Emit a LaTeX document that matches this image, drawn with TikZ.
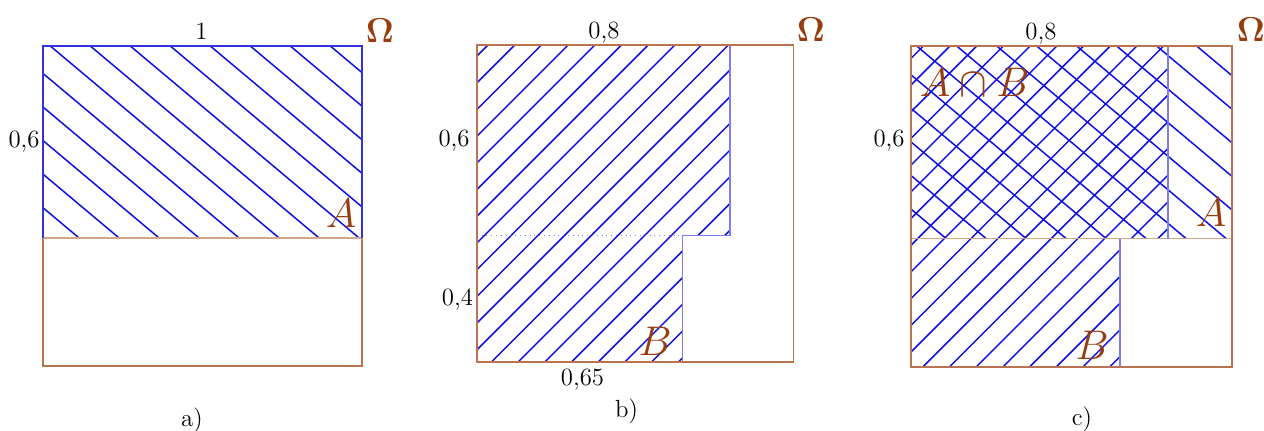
\documentclass[tikz,border=0pt]{standalone}
\usetikzlibrary{calc}
\definecolor{brn}{RGB}{150,60,15}
\definecolor{framec}{RGB}{185,115,80}
\definecolor{midc}{RGB}{208,165,140}
\definecolor{hb}{RGB}{15,15,225}
\definecolor{lb}{RGB}{125,125,250}
\definecolor{ab}{RGB}{50,50,225}
\begin{document}
\begin{tikzpicture}[x=0.5pt,y=-0.5pt,
  hatch/.style={draw=hb,line width=0.75pt},
  framel/.style={draw=framec,line width=0.9pt},
  midline/.style={draw=midc,line width=0.9pt},
  bedge/.style={draw=lb,line width=0.6pt},
  aedge/.style={draw=ab,line width=0.9pt},
  num/.style={font=\fontsize{12.4}{14}\selectfont,inner sep=0pt},
  setl/.style={text=brn,font=\fontsize{21}{24}\selectfont,inner sep=0pt,anchor=base},
  omeg/.style={text=brn,font=\fontsize{18.5}{22}\selectfont,inner sep=0pt,anchor=base},
]
\useasboundingbox (0,0) rectangle (1264,430);

% ---------- panel a ----------
\begin{scope}
  \clip (42.7,45.7) rectangle (362,237.7);
  \foreach \k in {-7,...,9}
    \draw[hatch] (42.7+7.3+40*\k-400, 45.7-335.6) -- ++(800,671.3);
\end{scope}
\draw[framel] (42.7,237.7) -- (42.7,365.7) -- (362,365.7) -- (362,237.7);
\draw[midline] (42.7,237.7) -- (362,237.7);
\draw[aedge] (42.7,237.7) -- (42.7,45.7) -- (362,45.7) -- (362,237.7);

\node[num,anchor=base] (a1) at (201.5,39.3) {1};
\node[num,anchor=base east] (a06) at (40,147.5) {0,6};
\node[omeg] (aO) at (380,42.7) {$\mathbf{\Omega}$};
\node[setl] (aA) at (341,227) {$A$};
\node[num,anchor=base] (alab) at (192,426) {a)};

% ---------- panel b ----------
\begin{scope}
  \clip (476.7,45.3) -- (730,45.3) -- (730,235.3) -- (682.7,235.3) -- (682.7,362.3) -- (476.7,362.3) -- cycle;
  \foreach \k in {0,...,25}
    \draw[hatch] (476.7+11+26.7*\k+400, 45.3-400) -- ++(-800,800);
\end{scope}
\draw[bedge] (730,45.3) -- (730,235.3) -- (682.7,235.3) -- (682.7,362.3);
\draw[draw=lb,line width=0.4pt,dotted] (476.7,235.3) -- (682.7,235.3);
\draw[framel] (476.7,45.3) rectangle (793.5,362.3);

\node[num,anchor=base] (b08) at (604,38.3) {0,8};
\node[num,anchor=base east] (b06) at (470,146.7) {0,6};
\node[num,anchor=base east] (b04) at (473.3,305) {0,4};
\node[num,anchor=base] (b065) at (582.5,385) {0,65};
\node[omeg] (bO) at (811,41.7) {$\mathbf{\Omega}$};
\node[setl] (bB) at (655,355) {$B$};
\node[num,anchor=base] (blab) at (626.5,417) {b)};

% ---------- panel c ----------
\begin{scope}
  \clip (911.3,46) rectangle (1232,238.5);
  \foreach \k in {-7,...,9}
    \draw[hatch] (911.3+5.4+40*\k-400, 46-335.6) -- ++(800,671.3);
\end{scope}
\begin{scope}
  \clip (911.3,46) -- (1168,46) -- (1168,238.5) -- (1120,238.5) -- (1120,367) -- (911.3,367) -- cycle;
  \foreach \k in {0,...,25}
    \draw[hatch] (911.3+12+26.7*\k+400, 46-400) -- ++(-800,800);
\end{scope}
\draw[midline] (911.3,238.5) -- (1232,238.5);
\draw[bedge] (1168,46) -- (1168,238.5);
\draw[bedge] (1120,238.5) -- (1120,367);
\draw[framel] (911.3,46) rectangle (1232,367);

\node[num,anchor=base] (c08) at (1041,39.3) {0,8};
\node[num,anchor=base east] (c06) at (905,146.7) {0,6};
\node[setl] (cAB) at (974.5,96.7) {$A\cap B$};
\node[setl] (cA) at (1211,226.7) {$A$};
\node[setl] (cB) at (1092,359.3) {$B$};
\node[omeg] (cO) at (1251,41.7) {$\mathbf{\Omega}$};
\node[num,anchor=base] (clab) at (1082,425) {c)};
\end{tikzpicture}
\end{document}
